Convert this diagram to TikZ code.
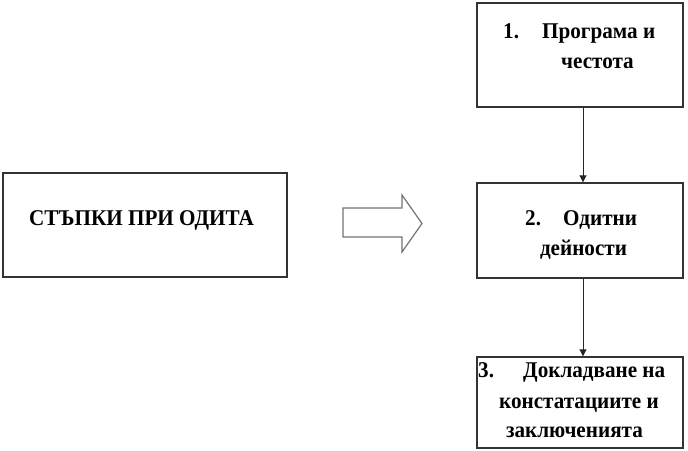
\documentclass[tikz,border=0pt]{standalone}
\usepackage{fontspec}
\setmainfont{Liberation Serif}
\newfontfamily\diagfont[FakeStretch=0.94]{Liberation Serif}
\usetikzlibrary{arrows.meta}
\begin{document}
\begin{tikzpicture}[x=1pt,y=-1pt,
  box/.style={draw=black!80,line width=1.4pt,fill=white,inner sep=0pt},
  lbl/.style={inner sep=0pt,font=\diagfont\bfseries\fontsize{22.5}{27}\selectfont,anchor=base},
  conn/.style={draw=black!85,line width=1pt,-{Triangle[width=7pt,length=7pt]}},
  blockarrow/.style={draw=black!55,line width=1.2pt,fill=white,line join=miter}]
\useasboundingbox (0,0) rectangle (688,450);
% boxes
\node[box,minimum width=284pt,minimum height=104pt] (steps) at (145,225) {};
\node[box,minimum width=206pt,minimum height=104pt] (b1) at (580,55) {};
\node[box,minimum width=206pt,minimum height=95pt] (b2) at (580,230.5) {};
\node[box,minimum width=206pt,minimum height=91pt] (b3) at (580,402.5) {};
% texts
\node[lbl] (t0) at (141.5,225) {СТЪПКИ ПРИ ОДИТА};
\node[lbl,anchor=base west] (t1n) at (503,38) {1.};
\node[lbl,anchor=base west] (t1a) at (542,38) {Програма и};
\node[lbl] (t1b) at (597.5,68) {честота};
\node[lbl,anchor=base west] (t2n) at (525,225) {2.};
\node[lbl,anchor=base west] (t2a) at (563,225) {Одитни};
\node[lbl] (t2b) at (583.5,255) {дейности};
\node[lbl,anchor=base west] (t3n) at (478,377) {3.};
\node[lbl,anchor=base west] (t3a) at (523,377) {Докладване на};
\node[lbl] (t3b) at (579,408) {констатациите и};
\node[lbl] (t3c) at (574.5,437) {заключенията};
% connectors
\draw[conn] ([xshift=3pt]b1.south) -- ([xshift=3pt]b2.north);
\draw[conn] ([xshift=3pt]b2.south) -- ([xshift=3pt]b3.north);
% block arrow
\draw[blockarrow] (343,208) -- (402,208) -- (402,195) -- (422,223.5) -- (402,252) -- (402,237) -- (343,237) -- cycle;
\end{tikzpicture}
\end{document}
